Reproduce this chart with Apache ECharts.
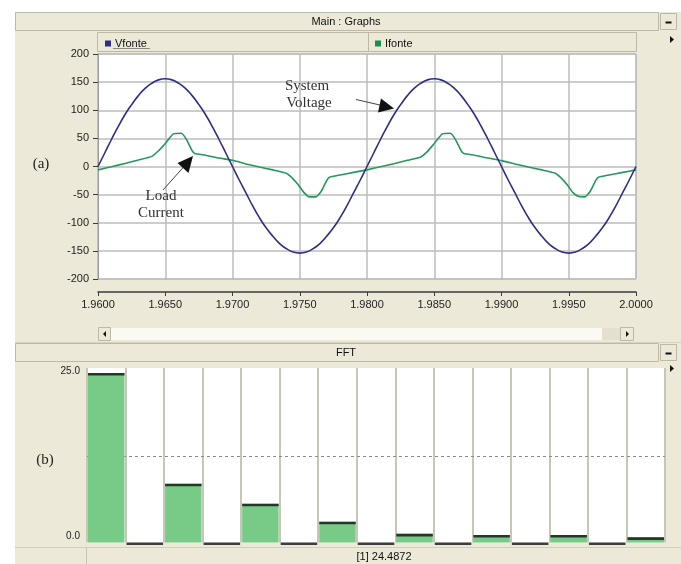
<!DOCTYPE html>
<html>
<head>
<meta charset="utf-8">
<script src="https://cdn.jsdelivr.net/npm/echarts@6/dist/echarts.min.js"></script>
<style>
  html, body { margin: 0; padding: 0; background: #ffffff; }
  #chart { width: 681px; height: 564px; }
</style>
</head>
<body>
<div id="chart"></div>
<script>
// Source voltage samples (time in s, value in V)
const timeV = [
  1.9600, 1.9605, 1.9610, 1.9615, 1.9620, 1.9625, 1.9630, 1.9635, 1.9640, 1.9645,
  1.9650, 1.9655, 1.9660, 1.9665, 1.9670, 1.9675, 1.9680, 1.9685, 1.9690, 1.9695,
  1.9700, 1.9705, 1.9710, 1.9715, 1.9720, 1.9725, 1.9730, 1.9735, 1.9740, 1.9745,
  1.9750, 1.9755, 1.9760, 1.9765, 1.9770, 1.9775, 1.9780, 1.9785, 1.9790, 1.9795,
  1.9800, 1.9805, 1.9810, 1.9815, 1.9820, 1.9825, 1.9830, 1.9835, 1.9840, 1.9845,
  1.9850, 1.9855, 1.9860, 1.9865, 1.9870, 1.9875, 1.9880, 1.9885, 1.9890, 1.9895,
  1.9900, 1.9905, 1.9910, 1.9915, 1.9920, 1.9925, 1.9930, 1.9935, 1.9940, 1.9945,
  1.9950, 1.9955, 1.9960, 1.9965, 1.9970, 1.9975, 1.9980, 1.9985, 1.9990, 1.9995,
  2.0000
];
const vfonte = [
  0, 24, 48, 71, 92, 110, 126, 139, 148, 154,
  156, 154, 148, 139, 126, 110, 92, 71, 48, 24,
  0, -24, -47, -70, -91, -109, -124, -137, -146, -152,
  -154, -152, -146, -137, -124, -109, -91, -70, -47, -24,
  0, 24, 48, 71, 92, 110, 126, 139, 148, 154,
  156, 154, 148, 139, 126, 110, 92, 71, 48, 24,
  0, -24, -47, -70, -91, -109, -124, -137, -146, -152,
  -154, -152, -146, -137, -124, -109, -91, -70, -47, -24,
  0
];

// Source current samples (time in s, value in A)
const timeI = [
  1.9600, 1.9610, 1.9620, 1.9630, 1.9640, 1.9645, 1.9649, 1.9653, 1.9656, 1.9662,
  1.9666, 1.9670, 1.9672, 1.9680, 1.9690, 1.9700, 1.9710, 1.9720, 1.9730, 1.9740,
  1.9745, 1.9749, 1.9753, 1.9757, 1.9762, 1.9766, 1.9770, 1.9772, 1.9780, 1.9790,
  1.9800, 1.9810, 1.9820, 1.9830, 1.9840, 1.9845, 1.9849, 1.9853, 1.9856, 1.9862,
  1.9866, 1.9870, 1.9872, 1.9880, 1.9890, 1.9900, 1.9910, 1.9920, 1.9930, 1.9940,
  1.9945, 1.9949, 1.9953, 1.9957, 1.9962, 1.9966, 1.9970, 1.9972, 1.9980, 1.9990,
  2.0000
];
const ifonte = [
  -6, -0.5, 5.5, 11.5, 18, 28, 38, 50, 58, 59,
  47, 28, 23, 20, 15, 11, 4.5, -1, -6, -12,
  -22, -33, -46, -54, -54, -44, -25, -19, -15, -10.5,
  -6, -0.5, 5, 11, 17, 27, 38, 50, 58, 59,
  47, 28, 23, 20, 15, 10.5, 4.5, -1, -6, -12,
  -22, -33, -46, -53, -54, -44, -25, -19, -15, -10.5,
  -6
];

// Harmonic spectrum of the current
const fftOrder = ['1', '2', '3', '4', '5', '6', '7', '8', '9', '10', '11', '12', '13', '14', '15'];
const fftValues = [24.4872, 0, 8.5, 0, 5.6, 0, 3.0, 0, 1.25, 0, 1.1, 0, 1.1, 0, 0.75];
const fftLabelValues = [0, 25];
const fftReference = 12.5;

const UI_FONT = "'Liberation Sans', Arial, sans-serif";
const SERIF = "'Liberation Serif', 'DejaVu Serif', serif";
const BEIGE = '#ECE9D8';
const EDGE = '#BDB9A6';

const zip = (xs, ys) => xs.map((x, i) => [x, ys[i]]);

function rect(x, y, w, h, fill, stroke, z) {
  return { type: 'rect', silent: true, z: z === undefined ? -5 : z,
    shape: { x: x, y: y, width: w, height: h },
    style: { fill: fill, stroke: stroke || null, lineWidth: 1 } };
}
function line(x1, y1, x2, y2, color, w, z) {
  return { type: 'line', silent: true, z: z === undefined ? -4 : z,
    shape: { x1: x1, y1: y1, x2: x2, y2: y2 },
    style: { stroke: color, lineWidth: w || 1 } };
}
function text(str, x, y, font, align, color, z) {
  return { type: 'text', silent: true, z: z === undefined ? 10 : z, x: x, y: y,
    style: { text: str, font: font, fill: color || '#111', align: align || 'center', verticalAlign: 'middle' } };
}
function tri(points, z) {
  return { type: 'polygon', silent: true, z: z === undefined ? 10 : z,
    shape: { points: points }, style: { fill: '#111' } };
}
function button(x, y) {
  return [
    rect(x, y, 16, 16, BEIGE, EDGE, -3),
    line(x + 5, y + 9, x + 11, y + 9, '#111', 2, -2)
  ];
}

const chrome = [
  // window backdrop
  rect(15, 12, 666, 552, BEIGE, null, -10),
  // "Main : Graphs" title bar
  rect(15.5, 12.5, 643, 18, BEIGE, EDGE, -6),
  text('Main : Graphs', 346, 21.5, '11px ' + UI_FONT, 'center', '#111'),
  ...button(660.5, 13.5),
  // legend strip
  rect(97.5, 32.5, 539, 19, BEIGE, EDGE, -6),
  line(368.5, 33, 368.5, 51, EDGE, 1, -4),
  line(113, 48.5, 150, 48.5, '#8A8A80', 1, -3),
  tri([[670, 36], [674, 39.5], [670, 43]]),
  // horizontal scroll bar
  rect(111, 328, 491, 12, '#FBFAF2', null, -6),
  rect(602, 328, 18, 12, '#E3E0D0', null, -6),
  rect(98.5, 327.5, 12, 13, BEIGE, EDGE, -5),
  rect(620.5, 327.5, 13, 13, BEIGE, EDGE, -5),
  tri([[106, 331], [103, 334], [106, 337]]),
  tri([[626, 331], [629, 334], [626, 337]]),
  // "FFT" title bar
  line(15, 342.5, 681, 342.5, '#D6D3C3', 1, -6),
  rect(15.5, 343.5, 643, 18, BEIGE, EDGE, -6),
  text('FFT', 346, 352.5, '11px ' + UI_FONT, 'center', '#111'),
  ...button(660.5, 344.5),
  tri([[670, 365], [674, 368.5], [670, 372]]),
  // status strip under the spectrum
  line(15, 547.5, 681, 547.5, '#D8C8C8', 1, -4),
  line(86.5, 548, 86.5, 564, '#C9C5B5', 1, -4),
  text('[1] ' + fftValues[0].toFixed(4), 384, 557, '11px ' + UI_FONT, 'center', '#111'),
  // panel tags
  text('(a)', 41, 164, '15px ' + SERIF, 'center', '#222'),
  text('(b)', 45, 460, '15px ' + SERIF, 'center', '#222'),
  // annotations
  text('System', 307, 86, '15px ' + SERIF, 'center', '#333'),
  text('Voltage', 309, 103, '15px ' + SERIF, 'center', '#333'),
  line(356, 99.5, 382, 105.5, '#444', 1, 10),
  tri([[394, 108.5], [378, 112.5], [381, 98.5]]),
  text('Load', 161, 196, '15px ' + SERIF, 'center', '#333'),
  text('Current', 161, 213, '15px ' + SERIF, 'center', '#333'),
  line(163, 190, 184, 166.5, '#444', 1, 10),
  tri([[193, 156], [188.5, 173], [177.5, 163]])
];

const chart = echarts.init(document.getElementById('chart'), null, { renderer: 'canvas' });

chart.setOption({
  animation: false,
  backgroundColor: '#ffffff',
  textStyle: { fontFamily: UI_FONT },
  graphic: { elements: chrome },
  legend: [
    { data: ['Vfonte'], left: 100, top: 33, icon: 'rect', itemWidth: 6, itemHeight: 6, itemGap: 4,
      selectedMode: false, textStyle: { fontSize: 11, color: '#111', fontFamily: UI_FONT, padding: [0, 0, 0, -1] } },
    { data: ['Ifonte'], left: 370, top: 33, icon: 'rect', itemWidth: 6, itemHeight: 6, itemGap: 4,
      selectedMode: false, textStyle: { fontSize: 11, color: '#111', fontFamily: UI_FONT, padding: [0, 0, 0, -1] } }
  ],
  grid: [
    { left: 98, top: 54, width: 538, height: 225, show: true, backgroundColor: '#ffffff',
      borderColor: '#B4B4B4', borderWidth: 1 },
    { left: 87, top: 368, width: 578, height: 174.5, show: true, backgroundColor: '#ffffff',
      borderWidth: 0 }
  ],
  xAxis: [
    { gridIndex: 0, type: 'value', min: 1.96, max: 2.0, interval: 0.005, offset: 13,
      axisLine: { show: true, onZero: false, lineStyle: { color: '#3A3A3A', width: 1.5 } },
      axisTick: { show: true, length: 4, lineStyle: { color: '#3A3A3A' } },
      axisLabel: { color: '#222', fontSize: 11, margin: 7, fontFamily: UI_FONT,
        formatter: v => v.toFixed(4) },
      splitLine: { show: true, lineStyle: { color: '#BDBDBD', width: 1.5 } } },
    { gridIndex: 1, type: 'category', data: fftOrder, boundaryGap: true,
      axisLine: { show: false, onZero: false }, axisTick: { show: false }, axisLabel: { show: false },
      splitLine: { show: true, interval: 0, lineStyle: { color: '#C9C5B7', width: 2 } } }
  ],
  yAxis: [
    { gridIndex: 0, type: 'value', min: -200, max: 200, interval: 50,
      axisLine: { show: true, lineStyle: { color: '#9A9A9A' } },
      axisTick: { show: true, length: 5, lineStyle: { color: '#3A3A3A' } },
      axisLabel: { color: '#222', fontSize: 11, margin: 9, fontFamily: UI_FONT },
      splitLine: { show: true, lineStyle: { color: '#BDBDBD', width: 1.5 } } },
    { gridIndex: 1, type: 'value', min: 0, max: 25.2,
      axisLine: { show: false }, axisTick: { show: false }, splitLine: { show: false },
      axisLabel: { show: true, customValues: fftLabelValues, margin: 7, color: '#222', fontSize: 10,
        fontFamily: UI_FONT,
        formatter: v => (v === 0 ? '{lo|' : '{hi|') + v.toFixed(1) + '}',
        rich: { lo: { padding: [0, 0, 12, 0], fontSize: 10 }, hi: { padding: [4, 0, 0, 0], fontSize: 10 } } } }
  ],
  series: [
    { name: 'Vfonte', type: 'line', xAxisIndex: 0, yAxisIndex: 0, data: zip(timeV, vfonte),
      showSymbol: false, smooth: true, z: 4,
      lineStyle: { color: '#2C2F88', width: 1.6 }, itemStyle: { color: '#2C2F88' } },
    { name: 'Ifonte', type: 'line', xAxisIndex: 0, yAxisIndex: 0, data: zip(timeI, ifonte),
      showSymbol: false, smooth: 0.15, z: 3,
      lineStyle: { color: '#24985A', width: 1.6 }, itemStyle: { color: '#18924A' } },
    { name: 'FFT', type: 'bar', xAxisIndex: 1, yAxisIndex: 1, data: fftValues,
      barWidth: 36.5, z: 2, silent: true,
      itemStyle: { color: '#77CB87' },
      markLine: { silent: true, symbol: 'none', z: 1, label: { show: false },
        lineStyle: { type: [3, 3], color: '#8C8C8C', width: 1 },
        data: [{ yAxis: fftReference }] } },
    { name: 'FFT level', type: 'scatter', xAxisIndex: 1, yAxisIndex: 1, data: fftValues,
      symbol: 'rect', symbolSize: [36.5, 2.6], symbolOffset: [0, 1.3], z: 3, silent: true,
      itemStyle: { color: '#111111' } }
  ]
});
</script>
</body>
</html>
